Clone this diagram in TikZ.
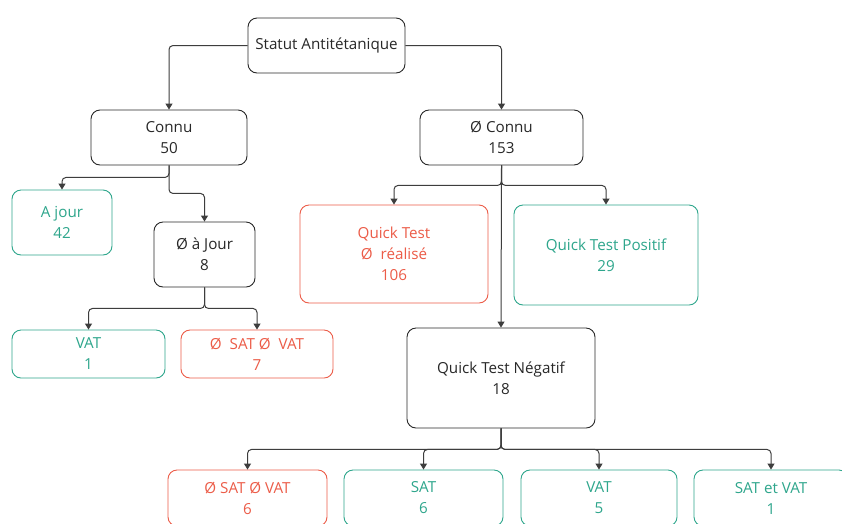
\documentclass[tikz,border=0pt]{standalone}
\usepackage{fontspec}
\setmainfont{Open Sans}
\usetikzlibrary{arrows.meta}

\definecolor{okteal}{RGB}{46,166,140}
\definecolor{badred}{RGB}{236,92,72}
\definecolor{inkgrey}{RGB}{40,40,40}

\begin{document}
\begin{tikzpicture}[x=1pt,y=1pt,
	box/.style={draw=inkgrey, text=inkgrey, fill=white, rounded corners=9pt, line width=0.9pt,
		align=center, inner sep=0pt, font=\fontsize{15.2}{21}\selectfont},
	okbox/.style={box, draw=okteal, text=okteal},
	badbox/.style={box, draw=badred, text=badred},
	link/.style={draw=inkgrey!90, line width=1pt, rounded corners=4pt, -{Triangle[length=6pt,width=7pt]}}]
	\clip (0,0) rectangle (842,-523);
	\fill[white] (0,0) rectangle (842,-523);

	% top
	\node[box, minimum width=157pt, minimum height=55pt] (root) at (326.5,-45.5) {Statut Antitétanique};

	\node[box, minimum width=156pt, minimum height=55pt] (connu) at (169,-137.5) {Connu\\50};
	\node[box, minimum width=163pt, minimum height=55pt] (nconnu) at (501.5,-137.5) {Ø Connu\\153};

	% left branch (connu)
	\node[okbox, minimum width=100pt, minimum height=65pt] (ajour) at (62,-222.5) {A jour\\42};
	\node[box, minimum width=101pt, minimum height=65pt] (najour) at (204.5,-254.5) {Ø à Jour\\8};
	\node[okbox, minimum width=153pt, minimum height=48pt] (vatA) at (88.5,-354) {VAT\\1};
	\node[badbox, minimum width=152pt, minimum height=48pt] (nsnvA) at (257,-354) {Ø~ SAT Ø~ VAT\\7};

	% right branch (non connu)
	\node[badbox, minimum width=188pt, minimum height=98pt] (qtnr) at (394,-254) {Quick Test\\Ø~ réalisé\\106};
	\node[okbox, minimum width=184pt, minimum height=100pt] (qtp) at (606,-255) {Quick Test Positif\\29};
	\node[box, minimum width=188pt, minimum height=100pt] (qtn) at (501,-378) {Quick Test Négatif\\18};

	% bottom row, cut by the page edge
	\node[badbox, minimum width=159pt, minimum height=56pt] (nsnvB) at (247.5,-498) {Ø SAT Ø VAT\\6};
	\node[okbox, minimum width=159pt, minimum height=56pt] (sat) at (423.5,-498) {SAT\\6};
	\node[okbox, minimum width=156pt, minimum height=56pt] (vatB) at (599,-498) {VAT\\5};
	\node[okbox, minimum width=154pt, minimum height=56pt] (satvat) at (771,-498) {SAT et VAT\\1};

	% arrows
	\draw[link] (root.west) -| (connu.north);
	\draw[link] (root.east) -| (nconnu.north);

	\draw[link] (connu.south) -- ++(0,-12) -| (ajour.north);
	\draw[link] (connu.south) -- ++(0,-28) -| (najour.north);
	\draw[link] (najour.south) -- ++(0,-21) -| (vatA.north);
	\draw[link] (najour.south) -- ++(0,-21) -| (nsnvA.north);

	\draw[link] (nconnu.south) -- ++(0,-20) -| (qtnr.north);
	\draw[link] (nconnu.south) -- ++(0,-20) -| (qtp.north);
	\draw[link] (nconnu.south) -- (qtn.north);

	\foreach \leaf in {nsnvB,sat,vatB,satvat}
		\draw[link] (qtn.south) -- ++(0,-21) -| (\leaf.north);
\end{tikzpicture}
\end{document}
